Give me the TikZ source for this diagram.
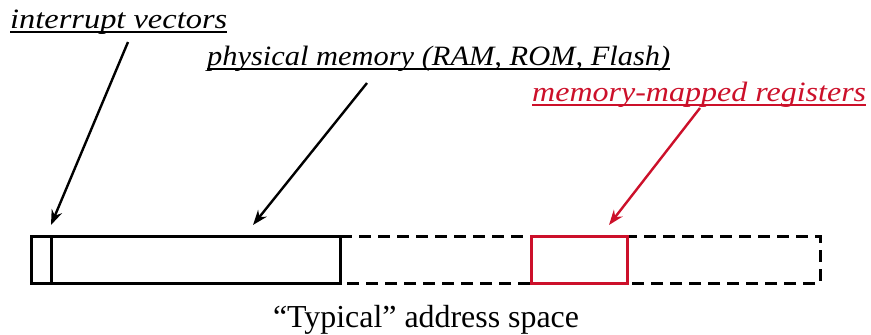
\documentclass[tikz,border=0pt]{standalone}
\usepackage{fontspec}
\setmainfont{Liberation Serif}
\usepackage{graphicx}
\usetikzlibrary{arrows.meta}
\definecolor{regred}{RGB}{204,16,42}
\begin{document}
\begin{tikzpicture}[x=1pt,y=-1pt,
  lbl/.style={inner sep=0pt,anchor=base west,font=\fontsize{28}{30}\itshape},
  ul/.style={line width=1.6pt},
  box/.style={line width=3pt},
  ptr/.style={line width=2.4pt,-{Stealth[length=15pt,width=11pt]}},
  dbox/.style={line width=3pt,dash pattern=on 12pt off 7pt}]
\useasboundingbox (0,0) rectangle (871,335);
% labels
\node[lbl] (iv) at (10,28) {\resizebox{217pt}{\height}{interrupt vectors}};
\node[lbl] (pm) at (207,65) {\resizebox{463pt}{\height}{physical memory (RAM, ROM, Flash)}};
\node[lbl,text=regred] (mr) at (532,101) {\resizebox{334pt}{\height}{memory-mapped registers}};
\draw[ul] ([yshift=-4pt]iv.base west) -- ([yshift=-4pt]iv.base east);
\draw[ul] ([yshift=-4pt]pm.base west) -- ([yshift=-4pt]pm.base east);
\draw[ul,regred] ([yshift=-4pt]mr.base west) -- ([yshift=-4pt]mr.base east);
% address space
\draw[dbox] (340,236) -- (820,236) -- (820,283) -- (340,283);
\node[box,draw,minimum width=20pt,minimum height=47pt,inner sep=0pt] (ivb) at (41,259.5) {};
\node[box,draw,minimum width=289pt,minimum height=47pt,inner sep=0pt] (pmb) at (195.5,259.5) {};
\node[box,draw=regred,fill=white,minimum width=96pt,minimum height=47pt,inner sep=0pt] (mrb) at (579,259.5) {};
\node[inner sep=0pt,anchor=base,font=\fontsize{32}{34}\selectfont] (cap) at (426,327) {\resizebox{306pt}{\height}{“Typical” address space}};
% arrows
\coordinate (a1) at (128,42);
\coordinate (t1) at (51,225);
\coordinate (a2) at (367,83);
\coordinate (t2) at (253,225);
\coordinate (a3) at (700,108);
\coordinate (t3) at (609,225);
\draw[ptr] (a1) -- (t1);
\draw[ptr] (a2) -- (t2);
\draw[ptr,regred] (a3) -- (t3);
\end{tikzpicture}
\end{document}
